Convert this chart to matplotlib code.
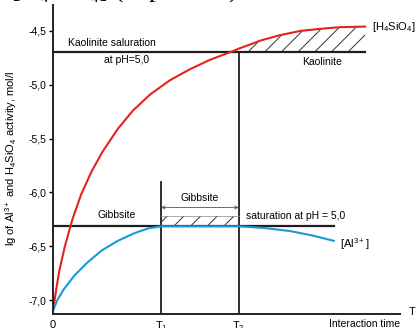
import matplotlib.pyplot as plt
import numpy as np

plt.rcParams['font.family'] = ['Liberation Sans', 'DejaVu Sans']
plt.rcParams['mathtext.default'] = 'regular'
plt.rcParams['hatch.linewidth'] = 0.7

# time marks (T1 = 1)
T1 = 1.0
T2 = 1.72

# saturation levels, lg activity
kaol_level = -4.694
gibb_level = -6.315

# [H4SiO4] curve
si_x = [0.00, 0.03, 0.06, 0.11, 0.18, 0.26, 0.36, 0.46, 0.60, 0.74, 0.90, 1.08,
        1.26, 1.45, 1.66, 1.72, 1.92, 2.10, 2.29, 2.48, 2.66, 2.89]
si_y = [-7.10, -6.90, -6.72, -6.50, -6.25, -6.02, -5.80, -5.62, -5.41, -5.24, -5.09, -4.96,
        -4.86, -4.77, -4.69, -4.665, -4.59, -4.54, -4.50, -4.48, -4.465, -4.46]

# [Al3+] curve
al_x = [0.00, 0.04, 0.10, 0.20, 0.32, 0.45, 0.60, 0.75, 0.88, 1.00, 1.72, 1.95, 2.20, 2.40, 2.60]
al_y = [-7.10, -7.00, -6.90, -6.77, -6.65, -6.54, -6.45, -6.38, -6.335, -6.315, -6.315,
        -6.33, -6.36, -6.40, -6.45]

yticks = [-4.5, -5.0, -5.5, -6.0, -6.5, -7.0]
ytick_labels = ['-4,5', '-5,0', '-5,5', '-6,0', '-6,5', '-7,0']

W, H = 419, 328
fig = plt.figure(figsize=(W / 100, H / 100), dpi=100)
ax = fig.add_axes([53 / W, 14 / H, 347 / W, 309 / H])
ax.set_xlim(0, 347 / 108)
ax.set_ylim(-7.0 - 14 / 108, -4.5 + 26 / 108)

for s in ['top', 'right']:
    ax.spines[s].set_visible(False)
for s in ['left', 'bottom']:
    ax.spines[s].set_linewidth(1.4)
    ax.spines[s].set_color('#222222')

line_c = '#1e1e1e'

# saturation lines
ax.plot([0, 2.89], [kaol_level, kaol_level], color=line_c, lw=1.6)
ax.plot([0, 2.60], [gibb_level, gibb_level], color=line_c, lw=1.6)

# T1 / T2 verticals
ax.plot([T1, T1], [-7.2, -5.907], color=line_c, lw=1.3)
ax.plot([T2, T2], [-7.2, kaol_level], color=line_c, lw=1.3)

# hatched areas
si_x = np.array(si_x)
si_y = np.array(si_y)
m = si_x >= T2
ax.fill_between(si_x[m], kaol_level, si_y[m], facecolor='none', edgecolor='#333333',
                hatch='//', linewidth=0)
ax.fill_between([T1, T2], gibb_level, -6.222, facecolor='none', edgecolor='#333333',
                hatch='//', linewidth=0)
ax.plot([T1, T2], [-6.222, -6.222], color='#888888', lw=0.5)
ax.annotate('', xy=(T1, -6.14), xytext=(T2, -6.14),
            arrowprops=dict(arrowstyle='<->', lw=0.6, color='#555555', mutation_scale=6,
                            shrinkA=0, shrinkB=0))

# curves
ax.plot(si_x, si_y, color='#e3221f', lw=1.5)
ax.plot(al_x, al_y, color='#1b98d8', lw=1.5)

# labels
fs = 7.5
ax.text(0.14, -4.611, 'Kaolinite saluration', fontsize=fs, va='center')
ax.text(0.68, -4.77, 'at pH=5,0', fontsize=fs, va='center', ha='center')
ax.text(2.49, -4.787, 'Kaolinite', fontsize=fs, va='center', ha='center')
ax.text(2.95, -4.463, '[H$_4$SiO$_4$]', fontsize=8, va='center')
ax.text(0.59, -6.213, 'Gibbsite', fontsize=fs, va='center', ha='center')
ax.text(1.36, -6.056, 'Gibbsite', fontsize=fs, va='center', ha='center')
ax.text(1.79, -6.222, 'saturation at pH = 5,0', fontsize=fs, va='center')
ax.text(2.66, -6.48, '[Al$^{3+}$]', fontsize=8, va='center')

ax.text(3.29, -7.11, 'T', fontsize=8, va='center', clip_on=False)
ax.text(3.21, -7.176, 'Interaction time', fontsize=fs, va='top', ha='right', clip_on=False)

ax.set_yticks(yticks)
ax.set_yticklabels(ytick_labels, fontsize=7.5)
ax.tick_params(axis='y', direction='out', length=3, width=1, pad=2)
ax.set_xticks([0, T1, T2])
ax.set_xticklabels(['0', 'T$_1$', 'T$_2$'], fontsize=8)
ax.tick_params(axis='x', length=0, pad=4)

fig.text(11 / W, 1 - 158 / H, 'lg of Al$^{3+}$ and H$_4$SiO$_4$ activity, mol/l',
         rotation=90, fontsize=8, ha='center', va='center')

# caption cut at the top of the image
fig.text(12 / W, 1 + 2.5 / H, '[H\u2084SiO\u2084] (at pH=5.0) and the line',
         family=['Liberation Serif', 'DejaVu Serif'], fontsize=19, va='baseline')

fig.savefig('out.png', dpi=100)
